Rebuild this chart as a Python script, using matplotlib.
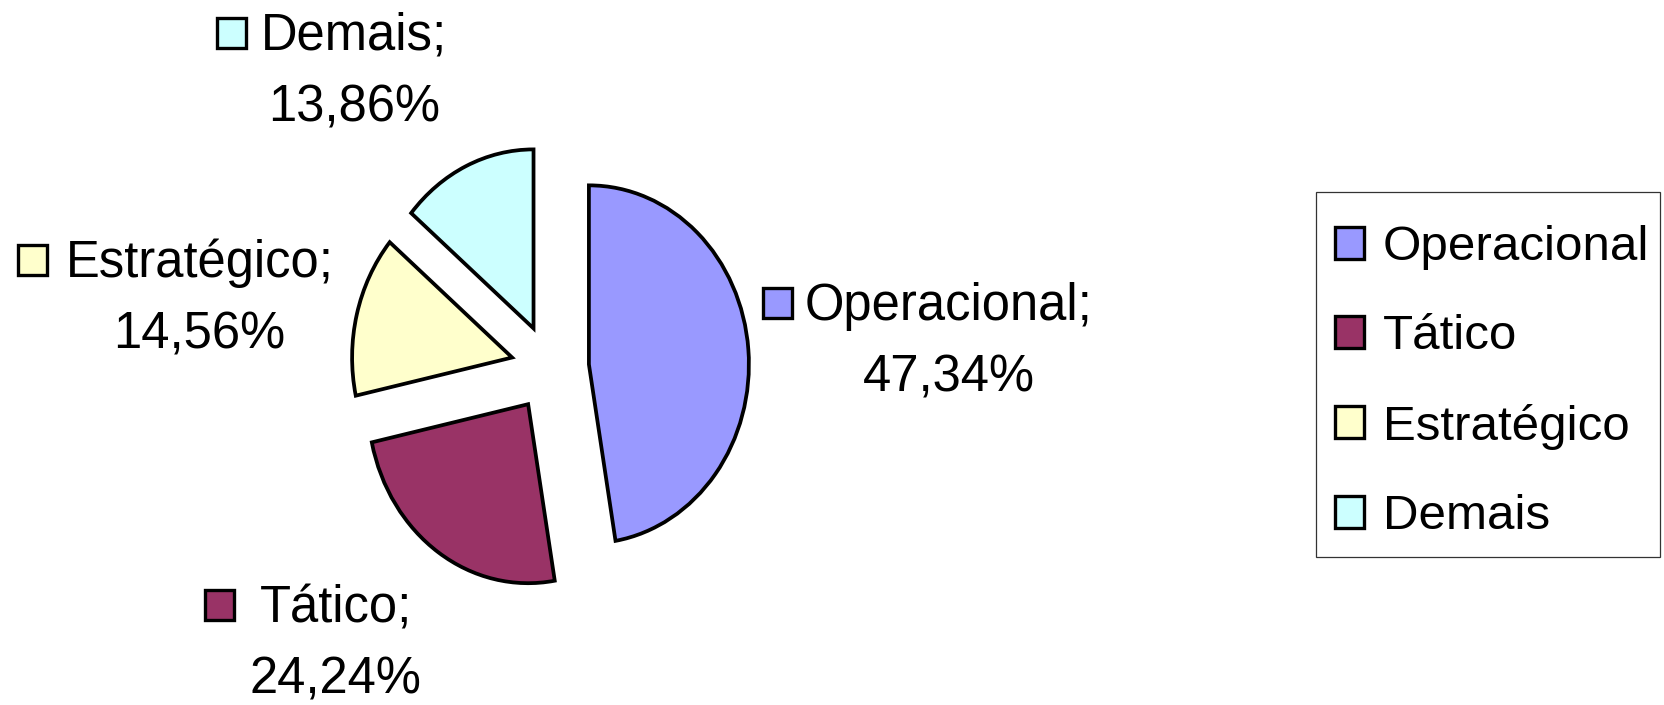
import matplotlib
matplotlib.use("Agg")
import matplotlib.pyplot as plt
from matplotlib.patches import Rectangle

plt.rcParams['font.family'] = ['Liberation Sans', 'DejaVu Sans']

# dados
categorias = ['Operacional', 'Tático', 'Estratégico', 'Demais']
percentuais = [47.34, 24.24, 14.56, 13.86]
cores = ['#9999FF', '#993366', '#FFFFCC', '#CCFFFF']

# posicao dos rotulos (centro x, linha de base da 1a linha, x do quadrado)
rot_x = [2.49, -1.34, -2.19, -1.225]
rot_y = [0.268, -1.419, 0.508, 1.777]
quad_x = [1.331, -2.156, -3.325, -2.081]

W, H = 1665, 705
fig = plt.figure(figsize=(W / 100.0, H / 100.0), dpi=100)
ax = fig.add_axes([0, 0, 1, 1])

# escala: 1 unidade = 160 px em x, 179 px em y, centro da pizza em (550, 368) px
cx, cy, sx, sy = 550.0, 368.0, 160.0, 179.0

wedges, _ = ax.pie(percentuais, colors=cores, startangle=90, counterclock=False,
                   explode=[0.244] * 4, radius=1.0,
                   wedgeprops=dict(edgecolor='black', linewidth=2.7))
ax.set_aspect('auto')
ax.set_xlim(-cx / sx, (W - cx) / sx)
ax.set_ylim((cy - H) / sy, cy / sy)
ax.axis('off')

fs = 36.5
gap = 0.40
for i in range(len(categorias)):
	ax.text(rot_x[i], rot_y[i], categorias[i] + ';', ha='center', va='baseline', fontsize=fs)
	txt = ('%.2f%%' % percentuais[i]).replace('.', ',')
	ax.text(rot_x[i], rot_y[i] - gap, txt, ha='center', va='baseline', fontsize=fs)
	ax.add_patch(Rectangle((quad_x[i], rot_y[i] + 0.01), 29 / sx, 30 / sy,
						   facecolor=cores[i], edgecolor='black', linewidth=2.4, clip_on=False))

# legenda sem moldura + moldura desenhada a parte
leg = fig.legend(wedges, categorias, loc='upper left',
				 bbox_to_anchor=(1335.0 / W, 1 - 225.0 / H), borderaxespad=0,
				 fontsize=35.5, handlelength=0.58, handleheight=0.62, handletextpad=0.39,
				 labelspacing=0.90, borderpad=0, frameon=False)
for h in leg.legend_handles:
	h.set_linewidth(2.4)
moldura = Rectangle((1316.0 / W, (H - 557.0) / H), (1660.0 - 1316.0) / W, (557.0 - 192.0) / H,
					transform=fig.transFigure, fill=False, edgecolor='#333333', linewidth=0.9)
fig.add_artist(moldura)

plt.savefig('out.png', dpi=100)
